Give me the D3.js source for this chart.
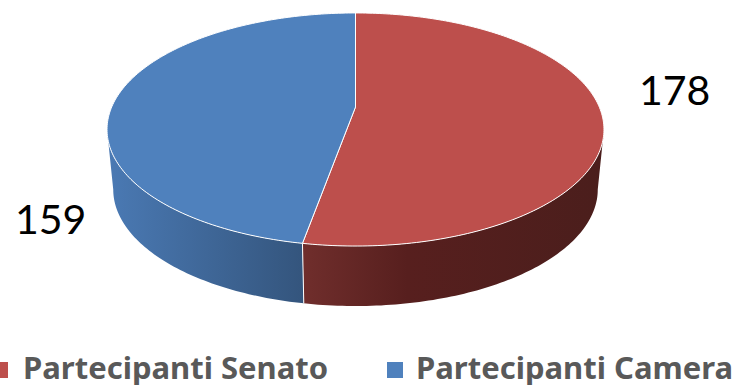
<!DOCTYPE html>
<html lang="en">
<head>
    <meta charset="UTF-8">
    <title>Partecipanti</title>
    <style>
        html, body { margin: 0; padding: 0; background: #fff; overflow: hidden; }
        .value-label { font: 400 41px Lato, sans-serif; fill: #000; }
        .legend-label { font: 700 31px "Noto Sans", sans-serif; fill: #595959; font-variant-ligatures: none; }
    </style>
</head>
<body>
    <div id="chart"></div>
    <script src="https://d3js.org/d3.v7.min.js"></script>
    <script>
        const categories = ["Partecipanti Senato", "Partecipanti Camera"];
        const values = [178, 159];

        const colors = ["#bd4f4c", "#4f81bd"];
        const wallStops = [
            [["0%", "#702e2c"], ["35%", "#571f1e"], ["100%", "#4b1e1c"]],
            [["0%", "#4a79b3"], ["100%", "#34557d"]]
        ];
        const wallRange = [[303, 600], [110, 303]];
        const labelPos = [[639, 105], [15, 234]];
        const legendPos = [[-8, 23], [387, 416]];

        const width = 733, height = 385;
        const cx = 355.5, cy = 107;      // apex of the pie, perspective moves it above ellipse centre
        const persp = 0.193, ax = 243.8, ay = 112.2;
        const depth = 60, shrink = 0.975;

        const svg = d3.select("#chart").append("svg")
            .attr("width", width)
            .attr("height", height)
            .style("display", "block");

        // unit circle -> screen, with a bit of perspective
        function topRim(a) {
            const u = Math.sin(a), v = -Math.cos(a), w = 1 - persp * v;
            return [cx + ax * u / w, cy + ay * v / w];
        }
        function bottomRim(a) {
            const p = topRim(a);
            return [cx + (p[0] - cx) * shrink, p[1] + depth];
        }
        function samples(a0, a1) {
            const n = Math.max(2, Math.ceil(Math.abs(a1 - a0) * 60));
            return d3.range(n + 1).map(i => a0 + (a1 - a0) * i / n);
        }

        const line = d3.line();
        const arcs = d3.pie().sort(null)(values);
        const frontStart = Math.acos(-persp);          // widest point on the right
        const frontEnd = 2 * Math.PI - frontStart;     // widest point on the left

        const defs = svg.append("defs");
        wallStops.forEach((stops, i) => {
            const g = defs.append("linearGradient")
                .attr("id", "wall" + i)
                .attr("gradientUnits", "userSpaceOnUse")
                .attr("x1", wallRange[i][0])
                .attr("x2", wallRange[i][1])
                .attr("y1", 0).attr("y2", 0);
            stops.forEach(s => g.append("stop").attr("offset", s[0]).attr("stop-color", s[1]));
        });

        // side walls first
        arcs.forEach((d, i) => {
            const a0 = Math.max(d.startAngle, frontStart);
            const a1 = Math.min(d.endAngle, frontEnd);
            const pts = samples(a0, a1).map(topRim)
                .concat(samples(a1, a0).map(bottomRim));
            svg.append("path")
                .attr("d", line(pts) + "Z")
                .attr("fill", "url(#wall" + i + ")");
        });

        // seam between the two walls
        const seam = arcs[0].endAngle;
        svg.append("path")
            .attr("d", line([topRim(seam), bottomRim(seam)]))
            .attr("stroke", "#fff")
            .attr("stroke-width", 1)
            .attr("fill", "none");

        // top faces
        arcs.forEach((d, i) => {
            const pts = [[cx, cy]].concat(samples(d.startAngle, d.endAngle).map(topRim));
            svg.append("path")
                .attr("d", line(pts) + "Z")
                .attr("fill", colors[i])
                .attr("stroke", "#fff")
                .attr("stroke-width", 1)
                .attr("stroke-linejoin", "round");
        });

        svg.selectAll("text.value-label")
            .data(values)
            .enter()
            .append("text")
            .attr("class", "value-label")
            .attr("x", (d, i) => labelPos[i][0])
            .attr("y", (d, i) => labelPos[i][1])
            .text(d => d);

        svg.selectAll("rect.legend-key")
            .data(categories)
            .enter()
            .append("rect")
            .attr("class", "legend-key")
            .attr("x", (d, i) => legendPos[i][0])
            .attr("y", 362)
            .attr("width", 16)
            .attr("height", 16)
            .attr("fill", (d, i) => colors[i]);

        svg.selectAll("text.legend-label")
            .data(categories)
            .enter()
            .append("text")
            .attr("class", "legend-label")
            .attr("x", (d, i) => legendPos[i][1])
            .attr("y", 379)
            .text(d => d);
    </script>
</body>
</html>
